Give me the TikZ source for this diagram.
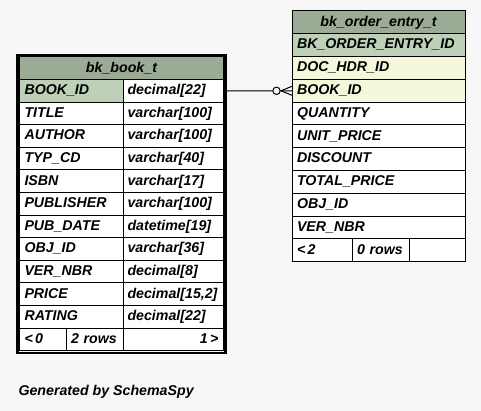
\documentclass[tikz,border=0pt]{standalone}
\usepackage{fontspec}
\setmainfont{Liberation Sans}
\usetikzlibrary{positioning,fit}

\definecolor{bgc}{HTML}{F7F7F7}
\definecolor{headc}{HTML}{9BAB96}
\definecolor{keyc}{HTML}{BED1B8}
\definecolor{idxc}{HTML}{F4F7DA}

\begin{document}
\begin{tikzpicture}[
        x=1pt, y=1pt, line width=1pt,
        font=\fontsize{14.2}{16}\selectfont\bfseries\itshape,
        node distance=22.6pt
    ]

    \tikzstyle{cell} = [rectangle,draw,fill=white,outer sep=0pt,inner xsep=5pt,inner ysep=0pt,minimum height=22.6pt,text height=10.5pt,text depth=3pt,align=left]
    \tikzstyle{colname} = [cell,text width=93.5pt]
    \tikzstyle{coltype} = [cell,inner xsep=4.5pt,text width=91.5pt]
    \tikzstyle{tblhead} = [cell,fill=headc,text width=194pt,align=center]
    \tikzstyle{rcell} = [cell,minimum height=22.8pt,text width=163pt]

    \fill[bgc] (0,0) rectangle (481,411);
    \useasboundingbox (0,0) rectangle (481,411);

    % bk_book_t
    \node[tblhead] (book) at (121.5,342.7) {bk\_book\_t};
    \node[colname,fill=keyc] (bookid) [below of=book,xshift=-50.25pt] {BOOK\_ID};
    \node[colname] (title) [below of=bookid] {TITLE};
    \node[colname] (author) [below of=title] {AUTHOR};
    \node[colname] (typcd) [below of=author] {TYP\_CD};
    \node[colname] (isbn) [below of=typcd] {ISBN};
    \node[colname] (publisher) [below of=isbn] {PUBLISHER};
    \node[colname] (pubdate) [below of=publisher] {PUB\_DATE};
    \node[colname] (objid) [below of=pubdate] {OBJ\_ID};
    \node[colname] (vernbr) [below of=objid] {VER\_NBR};
    \node[colname] (price) [below of=vernbr] {PRICE};
    \node[colname] (rating) [below of=price] {RATING};

    \node[coltype] (bookidt) [right=0pt of bookid] {decimal[22]};
    \node[coltype] (titlet) [below of=bookidt] {varchar[100]};
    \node[coltype] (authort) [below of=titlet] {varchar[100]};
    \node[coltype] (typcdt) [below of=authort] {varchar[40]};
    \node[coltype] (isbnt) [below of=typcdt] {varchar[17]};
    \node[coltype] (publishert) [below of=isbnt] {varchar[100]};
    \node[coltype] (pubdatet) [below of=publishert] {datetime[19]};
    \node[coltype] (objidt) [below of=pubdatet] {varchar[36]};
    \node[coltype] (vernbrt) [below of=objidt] {decimal[8]};
    \node[coltype] (pricet) [below of=vernbrt] {decimal[15,2]};
    \node[coltype] (ratingt) [below of=pricet] {decimal[22]};

    \node[cell,text width=36.5pt] (bookprev) [below of=rating,xshift=-28.5pt] {<\,0};
    \node[cell,text width=47pt] (bookrows) [right=0pt of bookprev] {2 rows};
    \node[cell,text width=90.5pt,align=right] (booknext) [right=0pt of bookrows] {1\,>};

    \node[draw,line width=2.5pt,inner sep=2.2pt,fit=(book)(booknext)] (booktbl) {};

    % bk_order_entry_t
    \begin{scope}[node distance=22.8pt]
        \node[tblhead,text width=163pt,minimum height=22.8pt] (entry) at (378.5,388.6) {bk\_order\_entry\_t};
        \node[rcell,fill=keyc] (entryid) [below of=entry] {BK\_ORDER\_ENTRY\_ID};
        \node[rcell,fill=idxc] (dochdr) [below of=entryid] {DOC\_HDR\_ID};
        \node[rcell,fill=idxc] (ebookid) [below of=dochdr] {BOOK\_ID};
        \node[rcell] (qty) [below of=ebookid] {QUANTITY};
        \node[rcell] (uprice) [below of=qty] {UNIT\_PRICE};
        \node[rcell] (disc) [below of=uprice] {DISCOUNT};
        \node[rcell] (tprice) [below of=disc] {TOTAL\_PRICE};
        \node[rcell] (eobjid) [below of=tprice] {OBJ\_ID};
        \node[rcell] (evernbr) [below of=eobjid] {VER\_NBR};

        \node[cell,minimum height=22.8pt,text width=50pt] (entryprev) [below of=evernbr,xshift=-56.5pt] {<\,2};
        \node[cell,minimum height=22.8pt,text width=47pt] (entryrows) [right=0pt of entryprev] {0 rows};
        \node[cell,minimum height=22.8pt,text width=46pt] (entrynext) [right=0pt of entryrows] {};
    \end{scope}

    % zero or many
    \draw (bookidt.east) -- (ebookid.west);
    \draw[fill=bgc] ([xshift=-15.5pt]ebookid.west) circle (3.7pt);
    \draw ([xshift=-11pt]ebookid.west) -- ([yshift=4.5pt]ebookid.west)
          ([xshift=-11pt]ebookid.west) -- ([yshift=-4.5pt]ebookid.west);

    \node[anchor=base west,inner sep=0pt] (gen) at (18,15) {Generated by SchemaSpy};

\end{tikzpicture}
\end{document}
